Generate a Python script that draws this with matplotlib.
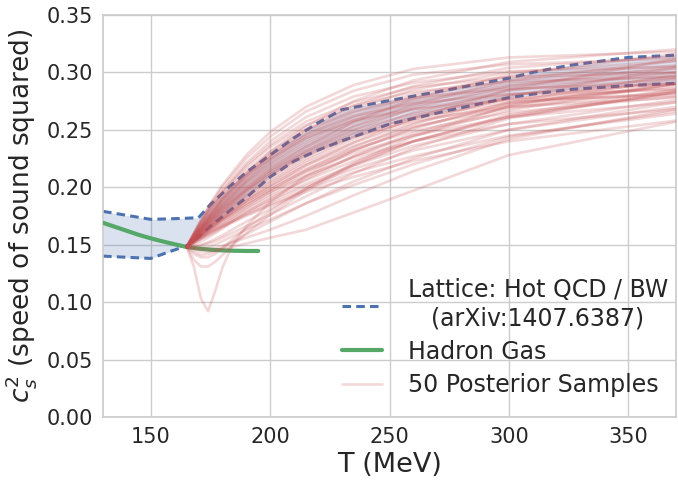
import matplotlib
matplotlib.use("Agg")
import matplotlib.pyplot as plt
from matplotlib.ticker import FormatStrFormatter
import seaborn as sns

# ---------------- data ----------------
# Lattice band (Hot QCD / BW)
T_lat = [130, 150, 158, 165, 170, 175, 183, 190, 200, 210, 220, 230, 250, 275, 300, 310, 325, 350, 370]
lat_upper = [0.179, 0.172, 0.1725, 0.173, 0.1735, 0.185, 0.2005, 0.213, 0.228, 0.243, 0.256, 0.2675,
             0.2755, 0.285, 0.295, 0.300, 0.306, 0.313, 0.315]
lat_lower = [0.140, 0.138, 0.144, 0.149, 0.157, 0.166, 0.1795, 0.191, 0.209, 0.2227, 0.2323, 0.2403,
             0.255, 0.267, 0.278, 0.281, 0.285, 0.2885, 0.2905]

# Hadron resonance gas
T_hrg = [130, 135, 140, 145, 150, 155, 160, 165, 170, 175, 180, 185, 190, 195]
c_hrg = [0.169, 0.1655, 0.162, 0.1585, 0.1555, 0.1528, 0.1503, 0.148, 0.1466, 0.1456, 0.145,
         0.1447, 0.1445, 0.1445]

# Posterior samples, group 1 (smooth rise)
T_reg = [165, 170, 175, 180, 190, 200, 215, 235, 260, 300, 370]
samples_reg = [
    [.148, .168, .186, .202, .228, .248, .270, .289, .303, .313, .318],
    [.148, .167, .185, .200, .225, .244, .266, .284, .298, .307, .312],
    [.148, .167, .183, .197, .221, .240, .261, .279, .291, .301, .305],
    [.148, .166, .182, .196, .219, .237, .257, .274, .287, .296, .300],
    [.148, .166, .181, .195, .217, .235, .254, .271, .283, .292, .296],
    [.148, .165, .180, .193, .214, .231, .250, .266, .278, .286, .290],
    [.148, .164, .179, .191, .212, .228, .246, .262, .273, .281, .285],
    [.148, .164, .177, .190, .210, .225, .243, .258, .268, .276, .280],
    [.148, .163, .177, .190, .212, .231, .253, .275, .293, .309, .320],
    [.148, .163, .176, .189, .210, .228, .250, .271, .288, .304, .314],
    [.148, .162, .176, .188, .209, .226, .247, .268, .285, .300, .310],
    [.148, .162, .175, .187, .207, .224, .245, .265, .281, .296, .306],
    [.148, .162, .174, .186, .206, .223, .243, .262, .279, .293, .303],
    [.148, .162, .174, .185, .205, .221, .241, .260, .276, .290, .300],
    [.148, .161, .173, .184, .204, .220, .239, .258, .274, .288, .297],
    [.148, .161, .173, .184, .203, .218, .237, .256, .271, .285, .294],
    [.148, .161, .172, .183, .201, .217, .235, .253, .268, .281, .290],
    [.148, .160, .172, .182, .200, .215, .232, .250, .264, .277, .286],
    [.148, .160, .171, .181, .198, .213, .230, .247, .261, .274, .282],
    [.148, .160, .170, .180, .197, .211, .228, .244, .258, .270, .278],
    [.148, .160, .170, .181, .199, .215, .235, .257, .277, .298, .316],
    [.148, .159, .170, .179, .197, .213, .232, .253, .272, .293, .310],
    [.148, .159, .169, .178, .196, .211, .230, .250, .269, .288, .305],
    [.148, .159, .168, .178, .194, .209, .227, .247, .265, .284, .300],
    [.148, .158, .168, .177, .193, .207, .225, .244, .262, .280, .296],
    [.148, .158, .167, .176, .192, .205, .223, .242, .259, .277, .292],
    [.148, .158, .167, .175, .190, .204, .221, .239, .256, .273, .288],
    [.148, .157, .166, .174, .189, .202, .219, .236, .253, .269, .284],
    [.148, .157, .166, .173, .188, .200, .216, .233, .249, .265, .279],
    [.148, .157, .165, .172, .186, .198, .214, .230, .245, .261, .274],
    [.148, .156, .164, .171, .184, .196, .210, .226, .240, .255, .268],
    [.148, .157, .165, .173, .188, .201, .219, .239, .260, .285, .312],
    [.148, .156, .164, .172, .186, .198, .215, .235, .255, .279, .304],
    [.148, .156, .163, .171, .184, .196, .213, .232, .251, .274, .298],
    [.148, .156, .163, .169, .182, .194, .209, .227, .245, .267, .290],
    [.148, .155, .162, .168, .181, .192, .206, .223, .240, .261, .283],
    [.148, .155, .161, .167, .179, .189, .203, .219, .236, .255, .276],
    [.148, .154, .161, .166, .177, .187, .201, .216, .232, .250, .270],
    [.148, .154, .160, .166, .176, .185, .198, .213, .227, .245, .264],
    [.148, .154, .159, .165, .175, .184, .196, .209, .223, .240, .258],
]

# Posterior samples, group 2 (dip or slow start)
T_dip = [165, 168, 171, 174, 177, 180, 184, 190, 200, 215, 235, 260, 300, 370]
samples_dip = [
    [.148, .131, .103, .092, .110, .130, .149, .166, .187, .210, .232, .252, .272, .290],
    [.148, .137, .131, .131, .135, .141, .149, .160, .176, .197, .219, .240, .263, .285],
    [.148, .142, .139, .139, .142, .147, .154, .164, .179, .199, .220, .240, .262, .282],
    [.148, .144, .141, .142, .144, .147, .152, .159, .170, .186, .205, .225, .250, .274],
    [.148, .146, .144, .144, .145, .146, .148, .151, .156, .163, .178, .197, .228, .257],
    [.148, .147, .146, .146, .147, .149, .152, .156, .163, .175, .193, .214, .242, .268],
    [.148, .148, .149, .151, .153, .156, .160, .166, .176, .192, .212, .234, .260, .283],
    [.148, .149, .150, .152, .155, .158, .163, .170, .181, .199, .221, .244, .271, .295],
    [.148, .150, .153, .156, .160, .164, .170, .178, .190, .207, .227, .247, .270, .290],
    [.148, .147, .147, .148, .150, .153, .157, .163, .172, .186, .202, .220, .244, .266],
]

x_ticks = [150, 200, 250, 300, 350]
y_ticks = [0.00, 0.05, 0.10, 0.15, 0.20, 0.25, 0.30, 0.35]

# ---------------- style ----------------
sns.set_theme(style="whitegrid")
plt.rcParams['font.family'] = ['DejaVu Sans']
plt.rcParams['axes.edgecolor'] = '.8'
plt.rcParams['grid.color'] = '.8'

BLUE = '#4C72B0'
GREEN = '#55A868'
RED = '#C44E52'

fig = plt.figure(figsize=(6.78, 4.82), dpi=100)
ax = fig.add_axes([0.152, 0.135, 0.845, 0.834])

ax.fill_between(T_lat, lat_lower, lat_upper, color=BLUE, alpha=0.2, lw=0, zorder=1)
ax.plot(T_lat, lat_upper, color=BLUE, lw=2.2, ls='--', dashes=(2.8, 1.7), zorder=2,
        label='Lattice: Hot QCD / BW\n(arXiv:1407.6387)')
ax.plot(T_lat, lat_lower, color=BLUE, lw=2.2, ls='--', dashes=(2.8, 1.7), zorder=2)

ax.plot(T_hrg, c_hrg, color=GREEN, lw=3.0, zorder=3, label='Hadron Gas')

first = True
for row in samples_reg:
    ax.plot(T_reg, row, color=RED, alpha=0.22, lw=1.9, zorder=4,
            label='50 Posterior Samples' if first else None)
    first = False
for row in samples_dip:
    ax.plot(T_dip, row, color=RED, alpha=0.22, lw=1.9, zorder=4)

ax.set_xlim(130, 370)
ax.set_ylim(0, 0.35)
ax.set_xticks(x_ticks)
ax.set_yticks(y_ticks)
ax.yaxis.set_major_formatter(FormatStrFormatter('%.2f'))
ax.tick_params(labelsize=15, colors='.15', length=0, pad=7)
ax.set_xlabel('T (MeV)', fontsize=19.5, color='.15', labelpad=4)
ax.set_ylabel(r'$c_s^2$ (speed of sound squared)', fontsize=19, color='.15', labelpad=6)

leg = ax.legend(loc='lower right', frameon=False, fontsize=17, handlelength=1.7,
                handletextpad=1.1, borderaxespad=0.1, labelspacing=0.4,
                bbox_to_anchor=(1.007, 0.02))
for t in leg.get_texts():
    t.set_multialignment('center')
    t.set_color('.15')

fig.savefig('out.png', dpi=100)
